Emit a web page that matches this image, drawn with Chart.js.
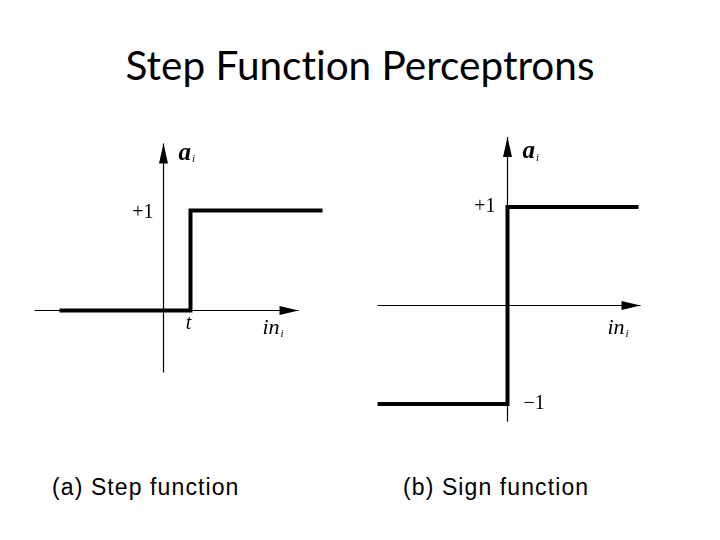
<!DOCTYPE html>
<html>
<head>
<meta charset="utf-8">
<script src="https://cdn.jsdelivr.net/npm/chart.js@4.4.1/dist/chart.umd.min.js"></script>
<style>
  html, body { margin: 0; padding: 0; background: #fff; }
  #wrap { position: relative; width: 720px; height: 540px; overflow: hidden; background: #fff; }
  #title { position: absolute; left: 0; width: 720px; top: 41px; text-align: center;
           font-family: Lato, "Open Sans", sans-serif; font-size: 40.5px; color: #000; line-height: 48px;
           font-variant-ligatures: none; }
  .cap { position: absolute; top: 474px; font-family: "Liberation Sans", Arial, sans-serif; font-size: 23px;
         letter-spacing: 1.1px; color: #000; }
  canvas { position: absolute; }
</style>
</head>
<body>
<div id="wrap">
  <div id="title">Step Function Perceptrons</div>
  <canvas id="left" width="360" height="300" style="left:0px; top:110px;"></canvas>
  <canvas id="right" width="360" height="330" style="left:360px; top:110px;"></canvas>
  <div class="cap" style="left:52px;">(a) Step function</div>
  <div class="cap" style="left:403px;">(b) Sign function</div>
</div>
<script>
// ---- Data ----
// (a) Step function: output a_i versus input in_i, threshold t
const stepX = [-1.04, 0.27, 0.27, 1.59];
const stepY = [0, 0, 1, 1];
const stepAxisX = [-1.29, 1.35];   // extent of horizontal axis
const stepAxisY = [-0.62, 1.67];   // extent of vertical axis
const stepTickLabels = ["+1", "t"];

// (b) Sign function
const signX = [-1.30, 0, 0, 1.31];
const signY = [-1, -1, 1, 1];
const signAxisX = [-1.30, 1.33];
const signAxisY = [-1.18, 1.71];
const signTickLabels = ["+1", "\u22121"];

const axisNames = { y: "a", ySub: "i", x: "in", xSub: "i" };

function pts(xs, ys) { return xs.map((x, i) => ({ x: x, y: ys[i] })); }

const arrowPlugin = {
  id: 'axesArrowsLabels',
  afterDatasetsDraw(chart, args, opts) {
    const ctx = chart.ctx;
    const xs = chart.scales.x, ys = chart.scales.y;
    ctx.save();
    ctx.fillStyle = '#000';
    // x arrow
    const tx = xs.getPixelForValue(opts.axisX[1]);
    const ty = ys.getPixelForValue(0);
    ctx.beginPath();
    ctx.moveTo(tx, ty);
    ctx.lineTo(tx - 19, ty - 4.5);
    ctx.lineTo(tx - 19, ty + 4.5);
    ctx.closePath();
    ctx.fill();
    // y arrow
    const ux = xs.getPixelForValue(0);
    const uy = ys.getPixelForValue(opts.axisY[1]);
    ctx.beginPath();
    ctx.moveTo(ux, uy);
    ctx.lineTo(ux - 4.5, uy + 20);
    ctx.lineTo(ux + 4.5, uy + 20);
    ctx.closePath();
    ctx.fill();
    // labels
    ctx.textBaseline = 'middle';
    for (const lb of opts.labels) {
      const px = xs.getPixelForValue(lb.x);
      const py = ys.getPixelForValue(lb.y);
      ctx.font = lb.font;
      ctx.textAlign = lb.align || 'left';
      ctx.fillText(lb.text, px, py);
      if (lb.sub) {
        const w = ctx.measureText(lb.text).width;
        ctx.font = lb.subFont;
        ctx.textAlign = 'left';
        ctx.fillText(lb.sub, px + w + 1, py + 6);
      }
    }
    ctx.restore();
  }
};

function makeChart(id, lx, ly, ax, ay, xr, yr, labels) {
  return new Chart(document.getElementById(id), {
    type: 'scatter',
    data: {
      datasets: [
        { data: pts(lx, ly), showLine: true, borderColor: '#000', borderWidth: 4,
          pointRadius: 0, tension: 0, order: 0, borderJoinStyle: 'miter', borderCapStyle: 'butt' },
        { data: pts(ax, [0, 0]), showLine: true, borderColor: '#000', borderWidth: 1.2,
          pointRadius: 0, order: 1 },
        { data: pts([0, 0], ay), showLine: true, borderColor: '#000', borderWidth: 1.2,
          pointRadius: 0, order: 1 }
      ]
    },
    options: {
      responsive: false, animation: false, events: [],
      layout: { padding: 0 },
      scales: {
        x: { type: 'linear', display: false, min: xr[0], max: xr[1] },
        y: { type: 'linear', display: false, min: yr[0], max: yr[1] }
      },
      plugins: {
        legend: { display: false }, tooltip: { enabled: false },
        axesArrowsLabels: { axisX: ax, axisY: ay, labels: labels }
      }
    },
    plugins: [arrowPlugin]
  });
}

const serif = '"Liberation Serif", "DejaVu Serif", serif';
makeChart('left', stepX, stepY, stepAxisX, stepAxisY, [-1.635, 1.965], [-0.995, 2.005], [
  { text: stepTickLabels[0], x: -0.10, y: 0.98, align: 'right', font: '20px ' + serif },
  { text: stepTickLabels[1], x: 0.25, y: -0.13, align: 'center', font: 'italic 20px ' + serif },
  { text: axisNames.y, sub: axisNames.ySub, x: 0.15, y: 1.57, font: 'italic bold 25px ' + serif, subFont: 'italic 11px ' + serif },
  { text: axisNames.x, sub: axisNames.xSub, x: 0.99, y: -0.18, font: 'italic 22px ' + serif, subFont: 'italic 11px ' + serif }
]);
makeChart('right', signX, signY, signAxisX, signAxisY, [-1.475, 2.125], [-1.36548, 1.98477], [
  { text: signTickLabels[0], x: -0.12, y: 1.0, align: 'right', font: '20px ' + serif },
  { text: signTickLabels[1], x: 0.16, y: -1.0, align: 'left', font: '20px ' + serif },
  { text: axisNames.y, sub: axisNames.ySub, x: 0.15, y: 1.56, font: 'italic bold 25px ' + serif, subFont: 'italic 11px ' + serif },
  { text: axisNames.x, sub: axisNames.xSub, x: 1.00, y: -0.23, font: 'italic 22px ' + serif, subFont: 'italic 11px ' + serif }
]);
</script>
</body>
</html>
